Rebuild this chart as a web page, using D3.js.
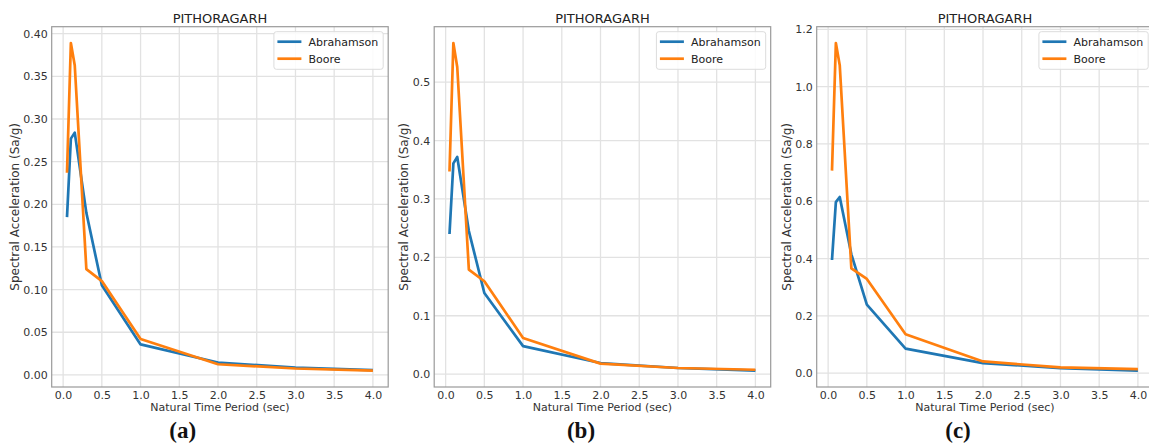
<!DOCTYPE html>
<html>
<head>
<meta charset="utf-8">
<script src="https://cdn.jsdelivr.net/npm/d3@7"></script>
<style>
  html, body { margin: 0; padding: 0; background: #fff; }
  svg { display: block; }
</style>
</head>
<body>
<svg id="chart" width="1149" height="445" font-family="DejaVu Sans, sans-serif"></svg>
<script>
// ---------------- data ----------------
const periods = [0.05, 0.1, 0.15, 0.3, 0.5, 1.0, 2.0, 3.0, 4.0];
const seriesNames = ["Abrahamson", "Boore"];
const chartTitle = "PITHORAGARH";
const panelLabels = ["(a)", "(b)", "(c)"];

const abrahamsonA = [0.185, 0.277, 0.284, 0.190, 0.105, 0.0357, 0.0145, 0.0085, 0.0055];
const booreA      = [0.237, 0.389, 0.363, 0.124, 0.110, 0.042, 0.0125, 0.0075, 0.005];

const abrahamsonB = [0.240, 0.361, 0.372, 0.245, 0.139, 0.048, 0.019, 0.0105, 0.006];
const booreB      = [0.347, 0.567, 0.526, 0.179, 0.159, 0.062, 0.018, 0.0105, 0.0075];

const abrahamsonC = [0.395, 0.597, 0.615, 0.415, 0.239, 0.086, 0.035, 0.018, 0.009];
const booreC      = [0.707, 1.152, 1.075, 0.366, 0.329, 0.136, 0.041, 0.020, 0.014];

const xTicks = [0, 0.5, 1, 1.5, 2, 2.5, 3, 3.5, 4];
const yTicksA = [0, 0.05, 0.1, 0.15, 0.2, 0.25, 0.3, 0.35, 0.4];
const yTicksB = [0, 0.1, 0.2, 0.3, 0.4, 0.5];
const yTicksC = [0, 0.2, 0.4, 0.6, 0.8, 1.0, 1.2];

const xLabel = "Natural Time Period (sec)";
const yLabel = "Spectral Acceleration (Sa/g)";

// ---------------- layout ----------------
const colors = ["#1f77b4", "#ff7f0e"];
const panels = [
  { series: [abrahamsonA, booreA], yTicks: yTicksA, fmt: d3.format(".2f"), label: panelLabels[0], labelX: 182.7 },
  { series: [abrahamsonB, booreB], yTicks: yTicksB, fmt: d3.format(".1f"), label: panelLabels[1], labelX: 581 },
  { series: [abrahamsonC, booreC], yTicks: yTicksC, fmt: d3.format(".1f"), label: panelLabels[2], labelX: 958 }
];
const frameTop = 26.7, frameBottom = 387, frameW = 336.5;
const firstLeft = 51.7, step = 382.5;

const svg = d3.select("#chart");

function paddedExtent(vals) {
  const lo = d3.min(vals), hi = d3.max(vals);
  const pad = (hi - lo) * 0.05;
  return [lo - pad, hi + pad];
}

panels.forEach((p, i) => {
  const left = firstLeft + i * step;
  const right = left + frameW;
  const g = svg.append("g");

  const x = d3.scaleLinear().domain(paddedExtent(periods)).range([left, right]);
  const allVals = p.series.flat();
  const y = d3.scaleLinear().domain(paddedExtent(allVals)).range([frameBottom, frameTop]);

  // grid
  const grid = g.append("g");
  grid.selectAll(".gx").data(xTicks).join("line")
    .attr("x1", d => x(d)).attr("x2", d => x(d))
    .attr("y1", frameTop).attr("y2", frameBottom)
    .attr("stroke", "#e2e2e2").attr("stroke-width", 1.3);
  grid.selectAll(".gy").data(p.yTicks).join("line")
    .attr("x1", left).attr("x2", right)
    .attr("y1", d => y(d)).attr("y2", d => y(d))
    .attr("stroke", "#e2e2e2").attr("stroke-width", 1.3);

  // lines
  const line = d3.line().x((d, k) => x(periods[k])).y(d => y(d));
  p.series.forEach((s, k) => {
    g.append("path").datum(s)
      .attr("d", line)
      .attr("fill", "none")
      .attr("stroke", colors[k])
      .attr("stroke-width", 2.7)
      .attr("stroke-linejoin", "round");
  });

  // frame
  g.append("rect").attr("x", left).attr("y", frameTop)
    .attr("width", frameW).attr("height", frameBottom - frameTop)
    .attr("fill", "none").attr("stroke", "#9a9a9a").attr("stroke-width", 1.2);

  // x axis ticks
  const xAxis = d3.axisBottom(x).tickValues(xTicks).tickFormat(d3.format(".1f")).tickSize(0).tickPadding(4);
  const gx = g.append("g").attr("transform", `translate(0,${frameBottom})`).call(xAxis);
  gx.select(".domain").remove();
  gx.selectAll("text").attr("font-size", 11).attr("fill", "#333").attr("font-family", "DejaVu Sans");

  // y axis ticks
  const yAxis = d3.axisLeft(y).tickValues(p.yTicks).tickFormat(p.fmt).tickSize(0).tickPadding(4);
  const gy = g.append("g").attr("transform", `translate(${left},0)`).call(yAxis);
  gy.select(".domain").remove();
  gy.selectAll("text").attr("font-size", 11).attr("fill", "#333").attr("font-family", "DejaVu Sans");
  let maxW = 0;
  gy.selectAll("text").each(function() { maxW = Math.max(maxW, this.getComputedTextLength()); });

  // title
  g.append("text").attr("x", (left + right) / 2).attr("y", 22.5)
    .attr("text-anchor", "middle").attr("font-size", 13).attr("fill", "#222")
    .text(chartTitle);

  // x label
  g.append("text").attr("x", (left + right) / 2).attr("y", 411)
    .attr("text-anchor", "middle").attr("font-size", 11).attr("fill", "#333")
    .text(xLabel);

  // y label
  const yl = left - 4 - maxW - 8.5;
  g.append("text")
    .attr("transform", `translate(${yl},${(frameTop + frameBottom) / 2}) rotate(-90)`)
    .attr("text-anchor", "middle").attr("dominant-baseline", "central")
    .attr("font-size", 12).attr("fill", "#333")
    .text(yLabel);

  // legend
  const lx = right - 5 - 109.3, ly = frameTop + 5;
  const lg = g.append("g");
  lg.append("rect").attr("x", lx).attr("y", ly).attr("width", 109.3).attr("height", 37.6)
    .attr("rx", 2.5).attr("fill", "#fff").attr("fill-opacity", 0.85)
    .attr("stroke", "#dcdcdc").attr("stroke-width", 1);
  seriesNames.forEach((name, k) => {
    const yy = ly + 10 + k * 17;
    lg.append("line").attr("x1", lx + 3.5).attr("x2", lx + 27.5)
      .attr("y1", yy).attr("y2", yy)
      .attr("stroke", colors[k]).attr("stroke-width", 2.7);
    lg.append("text").attr("x", lx + 34.6).attr("y", yy + 4)
      .attr("font-size", 11).attr("fill", "#222").text(name);
  });

  // panel label
  svg.append("text").attr("x", p.labelX).attr("y", 438)
    .attr("text-anchor", "middle")
    .style("font-family", "'Liberation Serif', 'Times New Roman', serif")
    .attr("font-weight", "bold").attr("font-size", 23).attr("fill", "#111")
    .text(p.label);
});
</script>
</body>
</html>
